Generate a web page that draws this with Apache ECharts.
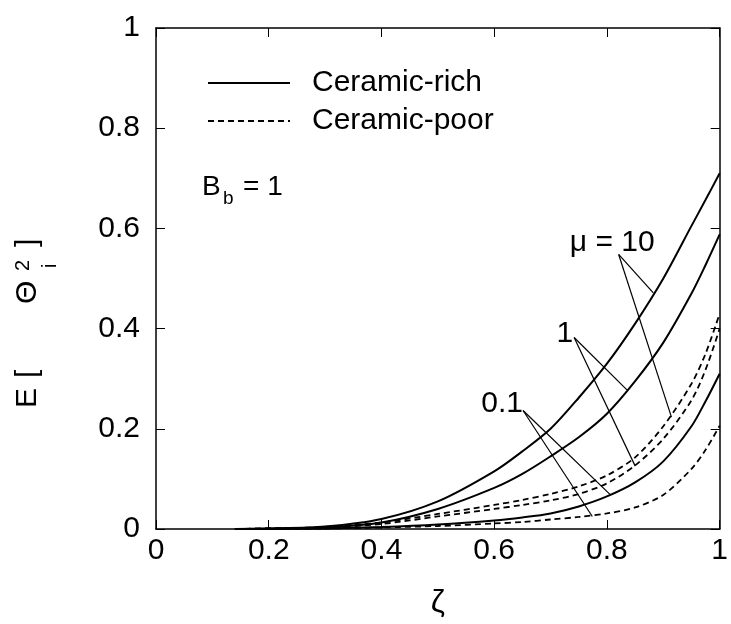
<!DOCTYPE html>
<html>
<head>
<meta charset="utf-8">
<script src="https://cdn.jsdelivr.net/npm/echarts@6/dist/echarts.min.js"></script>
<style>
  html, body { margin: 0; padding: 0; background: #fff; }
  #chart { width: 731px; height: 624px; }
</style>
</head>
<body>
<div id="chart"></div>
<script>
// ---- data ----
const zeta = [0.14, 0.2, 0.3, 0.4, 0.5, 0.6, 0.65, 0.7, 0.75, 0.8, 0.85, 0.9, 0.95, 0.975, 1.0];
const richMu10  = [0, 0.001, 0.005, 0.02, 0.055, 0.115, 0.155, 0.20, 0.262, 0.33, 0.41, 0.50, 0.605, 0.657, 0.71];
const richMu1   = [0, 0.001, 0.003, 0.013, 0.04, 0.082, 0.11, 0.145, 0.183, 0.23, 0.295, 0.372, 0.47, 0.527, 0.588];
const richMu01  = [0, 0, 0.001, 0.004, 0.009, 0.017, 0.023, 0.031, 0.045, 0.065, 0.093, 0.135, 0.205, 0.255, 0.31];
const poorMu10  = [0, 0.001, 0.004, 0.013, 0.03, 0.048, 0.058, 0.07, 0.085, 0.107, 0.143, 0.205, 0.29, 0.35, 0.43];
const poorMu1   = [0, 0.001, 0.003, 0.01, 0.025, 0.04, 0.048, 0.057, 0.07, 0.091, 0.127, 0.18, 0.257, 0.318, 0.40];
const poorMu01  = [0, 0, 0.001, 0.003, 0.006, 0.011, 0.014, 0.019, 0.024, 0.031, 0.043, 0.068, 0.12, 0.158, 0.206];

const legendNames = ['Ceramic-rich', 'Ceramic-poor'];

// annotation labels [zeta, value, text]
const muLabels = [
  [0.8094, 0.571, 'μ = 10'],
  [0.7255, 0.389, '1'],
  [0.614, 0.251, '0.1']
];
// leader lines: [start, end]
const leaders = [
  [[0.8208, 0.548], [0.8823, 0.4715]],
  [[0.8208, 0.548], [0.9145, 0.2233]],
  [[0.7418, 0.3822], [0.8355, 0.2777]],
  [[0.7418, 0.3822], [0.8502, 0.1255]],
  [[0.6512, 0.2366], [0.8063, 0.068]],
  [[0.6512, 0.2366], [0.7741, 0.025]]
];

const FONT = '"Liberation Sans", Arial, Helvetica, sans-serif';
const pair = v => zeta.map((x, i) => [x, v[i]]);

function curve(name, vals, dashed) {
  return {
    name: name,
    type: 'line',
    data: pair(vals),
    symbol: 'none',
    smooth: 0.3,
    lineStyle: { color: '#000', width: dashed ? 1.8 : 2, type: dashed ? [6, 4] : 'solid' },
    itemStyle: { color: '#000' },
    z: 3
  };
}

const chart = echarts.init(document.getElementById('chart'), null, { renderer: 'canvas' });

const baseAxis = {
  type: 'value', min: 0, max: 1, interval: 0.2,
  axisLine: { show: true, onZero: false, lineStyle: { color: '#000', width: 1.5 } },
  axisTick: { show: true, inside: true, length: 9, lineStyle: { color: '#000', width: 1 } },
  splitLine: { show: false }
};

chart.setOption({
  animation: false,
  backgroundColor: '#fff',
  grid: { left: 156, right: 3, top: 28, bottom: 90 },
  legend: {
    data: legendNames,
    orient: 'vertical',
    left: 202,
    top: 63,
    itemWidth: 82,
    itemHeight: 14,
    itemGap: 8,
    selectedMode: false,
    itemStyle: { opacity: 0 },
    textStyle: { fontFamily: FONT, fontSize: 30, color: '#000', lineHeight: 30, padding: [0, 0, 0, 17] }
  },
  xAxis: [
    Object.assign({}, baseAxis, {
      position: 'bottom',
      axisLabel: { show: true, margin: 7, fontFamily: FONT, fontSize: 30, color: '#000',
        formatter: v => String(v) },
      name: 'ζ', nameLocation: 'middle', nameGap: 58,
      nameTextStyle: { fontFamily: FONT, fontSize: 32, color: '#000' }
    }),
    Object.assign({}, baseAxis, { position: 'top', axisLabel: { show: false } })
  ],
  yAxis: [
    Object.assign({}, baseAxis, {
      position: 'left',
      axisLabel: { show: true, margin: 16, fontFamily: FONT, fontSize: 30, color: '#000',
        formatter: v => String(v) }
    }),
    Object.assign({}, baseAxis, { position: 'right', axisLabel: { show: false } })
  ],
  graphic: [
    {
      type: 'group', x: 38, y: 408, rotation: Math.PI / 2,
      children: [
        { type: 'text', x: 0, y: -10, style: { text: 'E', font: '30px ' + FONT, fill: '#000', textAlign: 'left', textVerticalAlign: 'middle' } },
        { type: 'text', x: 30, y: -10, style: { text: '[', font: '30px ' + FONT, fill: '#000', textAlign: 'left', textVerticalAlign: 'middle' } },
        { type: 'text', x: 104, y: -10, style: { text: 'Θ', font: '30px ' + FONT, fill: '#000', textAlign: 'left', textVerticalAlign: 'middle' } },
        { type: 'text', x: 137, y: -15, style: { text: '2', font: '20px ' + FONT, fill: '#000', textAlign: 'left', textVerticalAlign: 'middle' } },
        { type: 'text', x: 140, y: 12, style: { text: 'i', font: '20px ' + FONT, fill: '#000', textAlign: 'left', textVerticalAlign: 'middle' } },
        { type: 'text', x: 161, y: -10, style: { text: ']', font: '30px ' + FONT, fill: '#000', textAlign: 'left', textVerticalAlign: 'middle' } }
      ]
    },
    { type: 'text', x: 202, y: 187, style: { text: 'B', font: '28px ' + FONT, fill: '#000', textAlign: 'left', textVerticalAlign: 'middle' } },
    { type: 'text', x: 223, y: 199, style: { text: 'b', font: '19px ' + FONT, fill: '#000', textAlign: 'left', textVerticalAlign: 'middle' } },
    { type: 'text', x: 243, y: 187, style: { text: '= 1', font: '28px ' + FONT, fill: '#000', textAlign: 'left', textVerticalAlign: 'middle' } }
  ],
  series: [
    curve(legendNames[0], richMu10, false),
    curve(legendNames[0], richMu1, false),
    curve(legendNames[0], richMu01, false),
    curve(legendNames[1], poorMu10, true),
    curve(legendNames[1], poorMu1, true),
    curve(legendNames[1], poorMu01, true),
    {
      name: 'annotations',
      type: 'scatter',
      data: muLabels,
      symbolSize: 0,
      silent: true,
      itemStyle: { opacity: 1, color: '#000' },
      label: {
        show: true, position: 'inside', color: '#000', opacity: 1, fontFamily: FONT, fontSize: 30,
        formatter: p => p.value[2]
      },
      markLine: {
        silent: true,
        symbol: ['none', 'none'],
        label: { show: false },
        lineStyle: { color: '#000', width: 1.2, type: 'solid', opacity: 1 },
        data: leaders.map(l => [{ coord: l[0] }, { coord: l[1] }])
      },
      z: 4
    }
  ]
});
</script>
</body>
</html>
